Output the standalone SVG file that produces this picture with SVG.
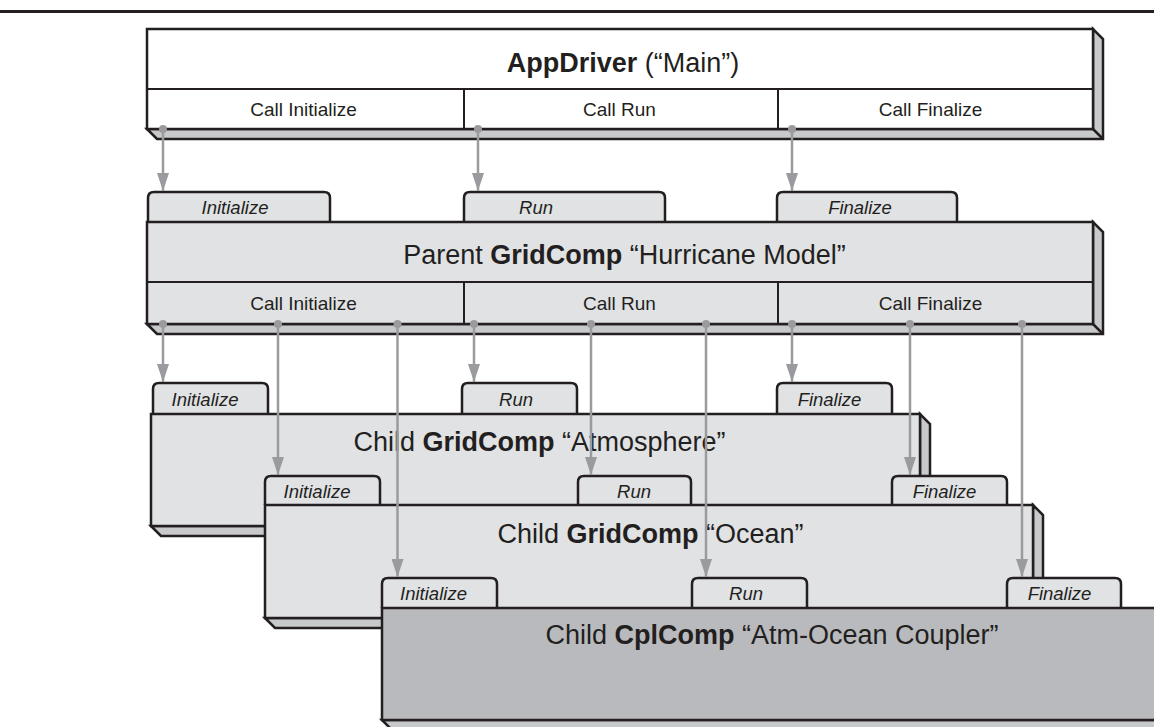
<svg xmlns="http://www.w3.org/2000/svg" width="1154" height="727" viewBox="0 0 1154 727">
<style>
  text { font-family: "Liberation Sans", Arial, Helvetica, sans-serif; fill: #231f20; }
  .title { font-size: 27px; text-anchor: middle; }
  .call { font-size: 19px; text-anchor: middle; }
  .tabl { font-size: 18.5px; font-style: italic; text-anchor: middle; }
  .b { font-weight: bold; }
  .shadow { fill: #c8c9cb; stroke: #231f20; stroke-width: 2.5; stroke-linejoin: miter; }
  .edge { stroke: #231f20; stroke-width: 2.5; fill: none; }
  .white { fill: #ffffff; stroke: #231f20; stroke-width: 2.5; }
  .gray { fill: #e1e2e4; stroke: #231f20; stroke-width: 2.5; }
  .dark { fill: #b9babd; stroke: #231f20; stroke-width: 2.5; }
  .tab { fill: #e1e2e4; stroke: #231f20; stroke-width: 2.5; }
  .div { stroke: #231f20; stroke-width: 2; fill: none; }
  .conn { stroke: #9a9b9e; stroke-width: 2.5; fill: none; marker-end: url(#arrow); }
  .dot { fill: #9a9b9e; }
</style>
<defs>
  <marker id="arrow" markerUnits="userSpaceOnUse" viewBox="0 0 18 12" refX="18" refY="6" markerWidth="18" markerHeight="12" orient="auto">
    <path d="M0,0 L18,6 L0,12 z" fill="#9a9b9e"/>
  </marker>
</defs>

<line x1="0" y1="11.5" x2="1154" y2="11.5" stroke="#231f20" stroke-width="3"/>

<g id="appdriver">
  <polygon class="shadow" points="147,129 157,139 1103,139 1103,39 1093,29 1093,129"/>
  <rect class="white" x="147" y="29" width="946" height="100"/>
  <line class="edge" x1="1093" y1="129" x2="1103" y2="139"/>
  <line class="div" x1="147" y1="89" x2="1093" y2="89"/>
  <line class="div" x1="464" y1="89" x2="464" y2="129"/>
  <line class="div" x1="778" y1="89" x2="778" y2="129"/>
  <text class="title" x="623" y="72"><tspan class="b">AppDriver</tspan> (“Main”)</text>
  <text class="call" x="303.5" y="116">Call Initialize</text>
  <text class="call" x="619.5" y="116">Call Run</text>
  <text class="call" x="930.5" y="116">Call Finalize</text>
</g>

<g id="parent">
  <path class="tab" d="M148,222 V198 Q148,192 154,192 H324 Q330,192 330,198 V222"/>
  <path class="tab" d="M464,222 V198 Q464,192 470,192 H659 Q665,192 665,198 V222"/>
  <path class="tab" d="M777,222 V198 Q777,192 783,192 H951 Q957,192 957,198 V222"/>
  <text class="tabl" x="235" y="214">Initialize</text>
  <text class="tabl" x="536" y="214">Run</text>
  <text class="tabl" x="860" y="214">Finalize</text>
  <polygon class="shadow" points="147,324 157,334 1103,334 1103,232 1093,222 1093,324"/>
  <rect class="gray" x="147" y="222" width="946" height="102"/>
  <line class="edge" x1="1093" y1="324" x2="1103" y2="334"/>
  <line class="div" x1="147" y1="282" x2="1093" y2="282"/>
  <line class="div" x1="464" y1="282" x2="464" y2="324"/>
  <line class="div" x1="778" y1="282" x2="778" y2="324"/>
  <text class="title" x="624.5" y="264">Parent <tspan class="b">GridComp</tspan> “Hurricane Model”</text>
  <text class="call" x="303.5" y="310">Call Initialize</text>
  <text class="call" x="619.5" y="310">Call Run</text>
  <text class="call" x="930.5" y="310">Call Finalize</text>
</g>

<g id="atmosphere">
  <path class="tab" d="M153,414 V389 Q153,383 159,383 H262 Q268,383 268,389 V414"/>
  <path class="tab" d="M462,414 V389 Q462,383 468,383 H571 Q577,383 577,389 V414"/>
  <path class="tab" d="M777,414 V389 Q777,383 783,383 H886 Q892,383 892,389 V414"/>
  <text class="tabl" x="205" y="406">Initialize</text>
  <text class="tabl" x="516" y="406">Run</text>
  <text class="tabl" x="829.5" y="406">Finalize</text>
  <polygon class="shadow" points="151,526 161,536 930,536 930,424 920,414 920,526"/>
  <rect class="gray" x="151" y="414" width="769" height="112"/>
  <line class="edge" x1="920" y1="526" x2="930" y2="536"/>
  <text class="title" x="539.5" y="451">Child <tspan class="b">GridComp</tspan> “Atmosphere”</text>
</g>

<g id="ocean">
  <path class="tab" d="M265,505 V482 Q265,476 271,476 H374 Q380,476 380,482 V505"/>
  <path class="tab" d="M578,505 V482 Q578,476 584,476 H685 Q691,476 691,482 V505"/>
  <path class="tab" d="M892,505 V482 Q892,476 898,476 H1001 Q1007,476 1007,482 V505"/>
  <text class="tabl" x="317" y="498">Initialize</text>
  <text class="tabl" x="634" y="498">Run</text>
  <text class="tabl" x="944.5" y="498">Finalize</text>
  <polygon class="shadow" points="265,618 275,628 1043,628 1043,515 1033,505 1033,618"/>
  <rect class="gray" x="265" y="505" width="768" height="113"/>
  <line class="edge" x1="1033" y1="618" x2="1043" y2="628"/>
  <text class="title" x="650.5" y="543">Child <tspan class="b">GridComp</tspan> “Ocean”</text>
</g>

<g id="coupler">
  <path class="tab" d="M382,608 V584 Q382,578 388,578 H491 Q497,578 497,584 V608"/>
  <path class="tab" d="M692,608 V584 Q692,578 698,578 H801 Q807,578 807,584 V608"/>
  <path class="tab" d="M1007,608 V584 Q1007,578 1013,578 H1115 Q1121,578 1121,584 V608"/>
  <text class="tabl" x="433.5" y="600">Initialize</text>
  <text class="tabl" x="746" y="600">Run</text>
  <text class="tabl" x="1059.5" y="600">Finalize</text>
  <polygon class="shadow" points="382,720 392,730 1180,730 1180,720"/>
  <rect class="dark" x="382" y="608" width="800" height="112"/>
  <text class="title" x="772" y="644">Child <tspan class="b">CplComp</tspan> “Atm-Ocean Coupler”</text>
</g>

<g id="connectors">
  <line class="conn" x1="163" y1="129" x2="163" y2="191"/>
  <line class="conn" x1="478" y1="129" x2="478" y2="191"/>
  <line class="conn" x1="792" y1="129" x2="792" y2="191"/>
  <circle class="dot" cx="163" cy="129" r="4"/>
  <circle class="dot" cx="478" cy="129" r="4"/>
  <circle class="dot" cx="792" cy="129" r="4"/>

  <line class="conn" x1="163" y1="324" x2="163" y2="382"/>
  <line class="conn" x1="278" y1="324" x2="278" y2="475"/>
  <line class="conn" x1="397.5" y1="324" x2="397.5" y2="577"/>
  <line class="conn" x1="474" y1="324" x2="474" y2="382"/>
  <line class="conn" x1="591" y1="324" x2="591" y2="475"/>
  <line class="conn" x1="706" y1="324" x2="706" y2="577"/>
  <line class="conn" x1="792" y1="324" x2="792" y2="382"/>
  <line class="conn" x1="910" y1="324" x2="910" y2="475"/>
  <line class="conn" x1="1022" y1="324" x2="1022" y2="577"/>
  <circle class="dot" cx="163" cy="324" r="4"/>
  <circle class="dot" cx="278" cy="324" r="4"/>
  <circle class="dot" cx="397.5" cy="324" r="4"/>
  <circle class="dot" cx="474" cy="324" r="4"/>
  <circle class="dot" cx="591" cy="324" r="4"/>
  <circle class="dot" cx="706" cy="324" r="4"/>
  <circle class="dot" cx="792" cy="324" r="4"/>
  <circle class="dot" cx="910" cy="324" r="4"/>
  <circle class="dot" cx="1022" cy="324" r="4"/>
</g>
</svg>
